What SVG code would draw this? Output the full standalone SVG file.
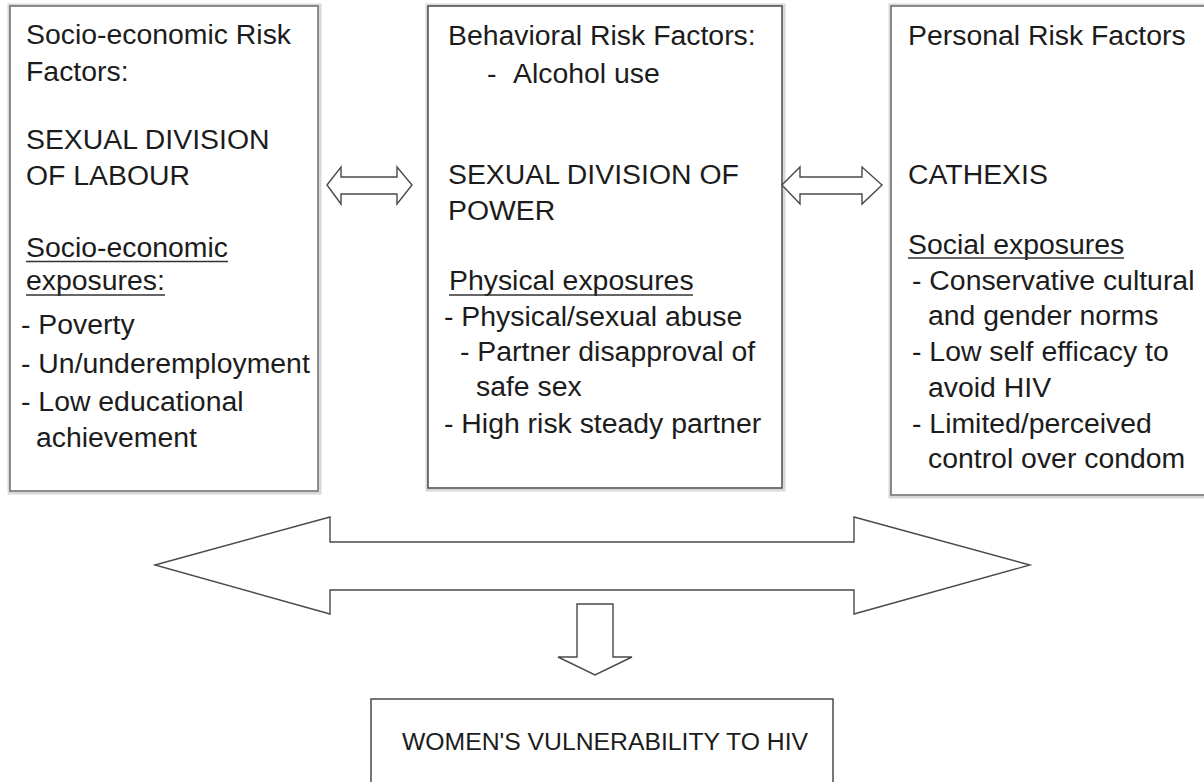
<svg xmlns="http://www.w3.org/2000/svg" width="1204" height="782" viewBox="0 0 1204 782">
<style>
.box{fill:#fff;stroke:#6a6a6a;stroke-width:1.5}
.shadow{fill:none;stroke:#d8d8d8;stroke-width:3}
.t{font-family:"Liberation Sans",Arial,Helvetica,sans-serif;font-size:28.4px;fill:#1c1c1c}
.ul{stroke:#333;stroke-width:1.4}
.arrow{fill:#fff;stroke:#4a4a4a;stroke-width:1.4;stroke-linejoin:miter}
</style>
<rect width="1204" height="782" fill="#fff"/>

<g id="socioeconomic">
<rect class="shadow" x="9" y="5" width="311" height="488"/>
<rect class="box" x="10" y="6" width="308" height="485"/>
<text class="t" x="26" y="44">Socio-economic Risk</text>
<text class="t" x="26" y="81">Factors:</text>
<text class="t" x="26" y="149">SEXUAL DIVISION</text>
<text class="t" x="26" y="185">OF LABOUR</text>
<text class="t" x="26" y="257">Socio-economic</text>
<line class="ul" x1="26" y1="261.5" x2="228" y2="261.5"/>
<text class="t" x="26" y="290">exposures:</text>
<line class="ul" x1="26" y1="295" x2="165" y2="295"/>
<text class="t" x="21" y="334">- Poverty</text>
<text class="t" x="21" y="373">- Un/underemployment</text>
<text class="t" x="21" y="411">- Low educational</text>
<text class="t" x="36" y="447">achievement</text>
</g>

<g id="behavioral">
<rect class="shadow" x="427" y="5" width="357" height="485"/>
<rect class="box" x="428" y="6" width="354" height="482" style="stroke:#4a4a4a"/>
<text class="t" x="448" y="45">Behavioral Risk Factors:</text>
<text class="t" x="487" y="83">-<tspan x="513">Alcohol use</tspan></text>
<text class="t" x="448" y="184">SEXUAL DIVISION OF</text>
<text class="t" x="448" y="220">POWER</text>
<text class="t" x="449" y="290">Physical exposures</text>
<line class="ul" x1="449" y1="295" x2="693" y2="295"/>
<text class="t" x="444" y="326">- Physical/sexual abuse</text>
<text class="t" x="460" y="361">- Partner disapproval of</text>
<text class="t" x="476" y="396">safe sex</text>
<text class="t" x="444" y="433">- High risk steady partner</text>
</g>

<g id="personal">
<rect class="shadow" x="890" y="5" width="330" height="492"/>
<rect class="box" x="891" y="6" width="330" height="489"/>
<text class="t" x="908" y="45">Personal Risk Factors</text>
<text class="t" x="908" y="184">CATHEXIS</text>
<text class="t" x="908" y="254">Social exposures</text>
<line class="ul" x1="908" y1="258" x2="1124" y2="258"/>
<text class="t" x="912" y="290">- Conservative cultural</text>
<text class="t" x="928" y="325">and gender norms</text>
<text class="t" x="912" y="361">- Low self efficacy to</text>
<text class="t" x="928" y="397">avoid HIV</text>
<text class="t" x="912" y="433">- Limited/perceived</text>
<text class="t" x="928" y="468">control over condom</text>
</g>

<g id="outcome">
<rect class="box" x="371" y="699" width="462" height="110" style="stroke:#4a4a4a"/>
<text class="t" x="402" y="750" style="font-size:24.5px" textLength="406" lengthAdjust="spacingAndGlyphs">WOMEN'S VULNERABILITY TO HIV</text>
</g>

<g id="connectors">
<polygon class="arrow" points="327,185 341,167 341,177 397,177 397,167 412,185 397,204 397,194 341,194 341,204"/>
<polygon class="arrow" points="782,185 800,167 800,177 862,177 862,167 882,185 862,204 862,194 800,194 800,204"/>
<polygon class="arrow" points="155,565 330,517 330,542 854,542 854,517 1030,565 854,614 854,590 330,590 330,614"/>
<polygon class="arrow" points="577,604 613,604 613,657 632,657 595,675 558,657 577,657"/>
</g>
</svg>
